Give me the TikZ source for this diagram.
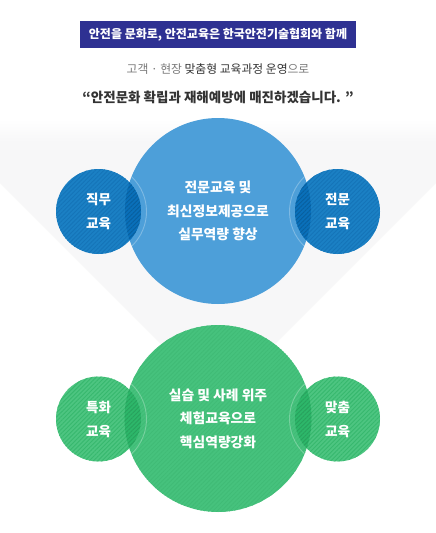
\documentclass[tikz,border=0pt]{standalone}
\usepackage{fontspec}
\setmainfont{Noto Sans CJK KR}
\newfontfamily\kr{Noto Sans CJK KR}
\usetikzlibrary{patterns.meta}
\definecolor{headblue}{HTML}{2E3192}
\definecolor{bandgray}{HTML}{F7F7F8}
\definecolor{subgray}{HTML}{7A7A7A}
\definecolor{darktext}{HTML}{333333}
\definecolor{bigblue}{HTML}{4D9FD9}
\definecolor{smallblue}{HTML}{1B80C4}
\definecolor{blueline}{HTML}{1574B8}
\definecolor{blueover}{HTML}{0A70BA}
\definecolor{biggreen}{HTML}{46C27D}
\definecolor{greenline}{HTML}{40BB76}
\definecolor{smallgreen}{HTML}{4DC581}
\definecolor{smgreenline}{HTML}{37B86E}
\definecolor{greenover}{HTML}{2DB76A}
\tikzset{
  headbox/.style={fill=headblue, text=white, minimum width=276pt, minimum height=27pt, inner sep=0pt,
    font=\kr\bfseries\fontsize{12}{14}\selectfont},
  subtext/.style={text=darktext, inner sep=0pt, font=\kr\fontsize{11.8}{13}\selectfont},
  quotetext/.style={text=darktext, inner sep=0pt, font=\kr\bfseries\fontsize{13.5}{16}\selectfont},
  bigtext/.style={text=white, align=center, inner sep=0pt, font=\kr\bfseries\fontsize{13.8}{23.5}\selectfont},
  smalltext/.style={text=white, align=center, inner sep=0pt, font=\kr\bfseries\fontsize{13.5}{24}\selectfont},
  ringline/.style={draw=white, draw opacity=0.28, line width=0.9pt},
}
\begin{document}
\begin{tikzpicture}[x=1pt,y=-1pt]
\useasboundingbox (0,0) rectangle (436,533);
\fill[white] (0,0) rectangle (436,533);
% background band
\fill[bandgray] (0,120) -- (436,120) -- (436,183) -- (218,401) -- (0,183) -- cycle;
\shade[top color=white, bottom color=bandgray] (0,119) rectangle (436,142);
% header
\node[headbox] (head) at (218,34.5) {안전을 문화로, 안전교육은 한국안전기술협회와 함께};
\node[subtext] (sub) at (218,69) {{\color{subgray}고객 · 현장} 맞춤형 교육과정 운영{\color{subgray}으로}};
\node[quotetext] (quote) at (218,97) {“안전문화 확립과 재해예방에 매진하겠습니다. ”};
% coordinates
\coordinate (bc) at (218,211);
\coordinate (bl) at (98.5,211.5);
\coordinate (br) at (337.5,211.5);
\coordinate (gc) at (218,418.5);
\coordinate (gl) at (98.5,419);
\coordinate (gr) at (337.5,419);
% blue group
\fill[bigblue] (bc) circle[radius=93];
\foreach \p in {bl,br}{
  \fill[smallblue] (\p) circle[radius=42.5];
  \path[pattern={Lines[angle=45,distance=3pt,line width=0.9pt]}, pattern color=blueline] (\p) circle[radius=42.5];
  \begin{scope}
    \clip (bc) circle[radius=93];
    \fill[blueover] (\p) circle[radius=42.5];
    \path[pattern={Lines[angle=45,distance=3pt,line width=0.9pt]}, pattern color=blueover!85!black] (\p) circle[radius=42.5];
    \draw[ringline] (\p) circle[radius=48];
  \end{scope}
}
% green group
\fill[biggreen] (gc) circle[radius=93.5];
\path[pattern={Lines[angle=45,distance=3pt,line width=0.8pt]}, pattern color=greenline] (gc) circle[radius=93.5];
\foreach \p in {gl,gr}{
  \fill[smallgreen] (\p) circle[radius=42.5];
  \path[pattern={Lines[angle=45,distance=3pt,line width=0.9pt]}, pattern color=smgreenline] (\p) circle[radius=42.5];
  \begin{scope}
    \clip (gc) circle[radius=93.5];
    \fill[greenover] (\p) circle[radius=42.5];
    \path[pattern={Lines[angle=45,distance=3pt,line width=0.9pt]}, pattern color=greenover!88!black] (\p) circle[radius=42.5];
    \draw[ringline] (\p) circle[radius=48];
  \end{scope}
}
% texts
\node[bigtext] (tb) at (bc) {전문교육 및\\최신정보제공으로\\실무역량 향상};
\node[smalltext] (tbl) at (bl) {직무\\교육};
\node[smalltext] (tbr) at (br) {전문\\교육};
\node[bigtext] (tg) at (gc) {실습 및 사례 위주\\체험교육으로\\핵심역량강화};
\node[smalltext] (tgl) at (gl) {특화\\교육};
\node[smalltext] (tgr) at (gr) {맞춤\\교육};
\end{tikzpicture}
\end{document}
